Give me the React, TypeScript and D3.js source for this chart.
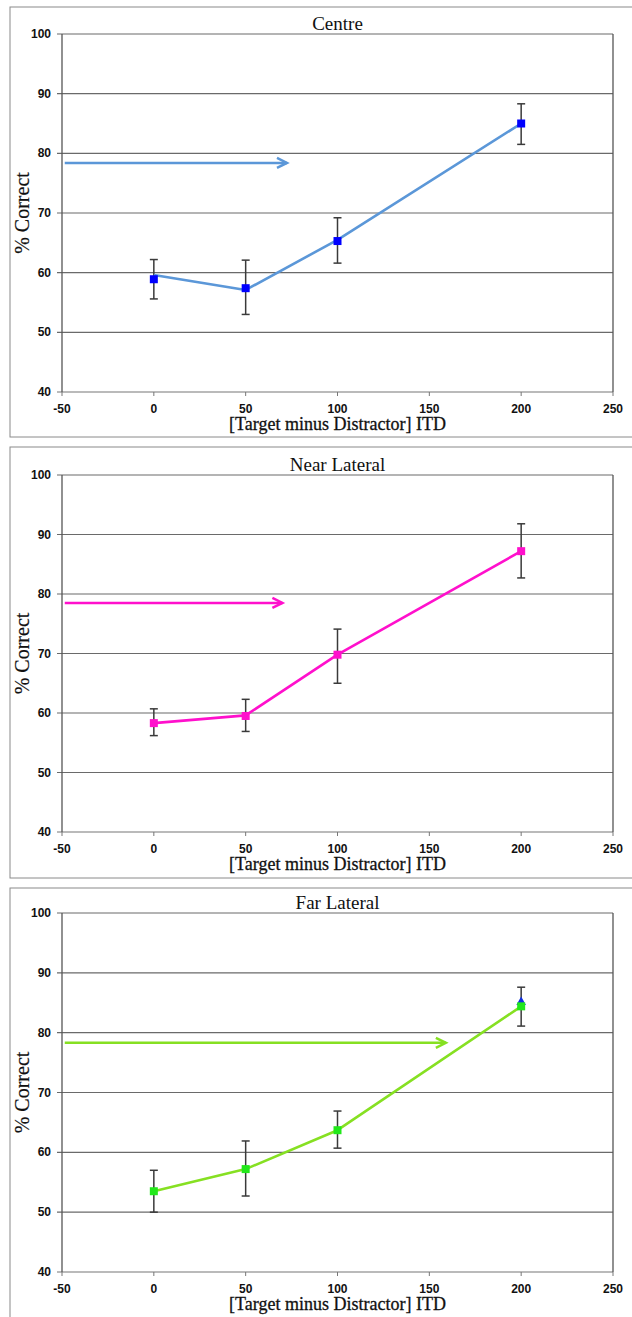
import React from "react";
import * as d3 from "d3";

const xTicks = [-50, 0, 50, 100, 150, 200, 250];
const yTicks = [40, 50, 60, 70, 80, 90, 100];
const itd = [0, 50, 100, 200];
const titles = ["Centre", "Near Lateral", "Far Lateral"];
const xAxisTitle = "[Target minus Distractor] ITD";
const yAxisTitle = "% Correct";

const centreMean = [58.9, 57.4, 65.3, 85.0];
const centreLine = [59.6, 57.1, 65.5, 85.0];
const centreLow = [55.6, 53.0, 61.6, 81.5];
const centreHigh = [62.2, 62.1, 69.2, 88.3];

const nearMean = [58.3, 59.5, 69.8, 87.2];
const nearLine = [58.3, 59.6, 69.8, 87.2];
const nearLow = [56.2, 56.9, 65.0, 82.7];
const nearHigh = [60.7, 62.3, 74.1, 91.8];

const farMean = [53.5, 57.2, 63.7, 84.4];
const farLine = [53.5, 57.2, 63.7, 84.4];
const farLow = [50.0, 52.7, 60.7, 81.1];
const farHigh = [57.0, 61.9, 66.9, 87.6];
const farHiddenMarker = [85.1];

const arrowLevel = [78.4, 78.5, 78.3];
const arrowStart = [-48.5, -48.5, -48.5];
const arrowEnd = [72.5, 70, 159];

const panels = [
  { top: 7, bottom: 437, plotTop: 34, plotBottom: 392, line: "#5b97d8", marker: "#0000ff", mean: centreMean, lineVals: centreLine, low: centreLow, high: centreHigh },
  { top: 447, bottom: 878, plotTop: 475, plotBottom: 832, line: "#ff10cc", marker: "#ff10cc", mean: nearMean, lineVals: nearLine, low: nearLow, high: nearHigh },
  { top: 888, bottom: 1340, plotTop: 913, plotBottom: 1272, line: "#86e022", marker: "#22e81a", mean: farMean, lineVals: farLine, low: farLow, high: farHigh },
];

const PLOT_LEFT = 62;
const PLOT_RIGHT = 613;

function Panel({ p, i }: { p: any; i: number }) {
  const x = d3.scaleLinear().domain([-50, 250]).range([PLOT_LEFT, PLOT_RIGHT]);
  const y = d3.scaleLinear().domain([40, 100]).range([p.plotBottom, p.plotTop]);
  const pts = itd.map((d, k) => [x(d), y(p.lineVals[k])] as [number, number]);
  const lineGen = d3.line();
  const ay = y(arrowLevel[i]);
  const ax0 = x(arrowStart[i]);
  const ax1 = x(arrowEnd[i]);
  const midY = (p.plotTop + p.plotBottom) / 2;
  const midX = (PLOT_LEFT + PLOT_RIGHT) / 2;
  return (
    <g>
      <rect x={10} y={p.top} width={640} height={p.bottom - p.top} fill="white" stroke="#8a8a8a" strokeWidth={1} />
      {yTicks.map((t) => (
        <g key={"y" + t}>
          <line x1={PLOT_LEFT - 5} x2={PLOT_RIGHT} y1={y(t)} y2={y(t)} stroke={t === 40 ? "#777" : "#6a6a6a"} strokeWidth={1.2} />
          <text x={PLOT_LEFT - 11} y={y(t) + 4} textAnchor="end" fontFamily="Liberation Sans, Arial, sans-serif" fontWeight="bold" fontSize={12} fill="#111">{t}</text>
        </g>
      ))}
      <line x1={PLOT_LEFT} x2={PLOT_LEFT} y1={p.plotTop} y2={p.plotBottom} stroke="#555" strokeWidth={1.3} />
      <line x1={PLOT_RIGHT} x2={PLOT_RIGHT} y1={p.plotTop} y2={p.plotBottom} stroke="#555" strokeWidth={1.3} />
      {xTicks.map((t) => (
        <g key={"x" + t}>
          <line x1={x(t)} x2={x(t)} y1={p.plotBottom} y2={p.plotBottom + 4} stroke="#777" strokeWidth={1} />
          <text x={x(t)} y={p.plotBottom + 21} textAnchor="middle" fontFamily="Liberation Sans, Arial, sans-serif" fontWeight="bold" fontSize={12} fill="#111">{t}</text>
        </g>
      ))}
      <text x={midX} y={p.plotTop - 4} textAnchor="middle" fontFamily="Liberation Serif, Times New Roman, serif" fontSize={19} fill="#111">{titles[i]}</text>
      <text x={midX} y={p.plotBottom + 38} textAnchor="middle" fontFamily="Liberation Serif, Times New Roman, serif" fontSize={18} fill="#111" stroke="#111" strokeWidth={0.3}>{xAxisTitle}</text>
      <text transform={`translate(29,${midY}) rotate(-90)`} textAnchor="middle" fontFamily="Liberation Serif, Times New Roman, serif" fontSize={20} fill="#111" stroke="#111" strokeWidth={0.2}>{yAxisTitle}</text>
      <line x1={ax0} x2={ax1} y1={ay} y2={ay} stroke={p.line} strokeWidth={2.5} />
      <path d={`M${ax1 - 10},${ay - 5} L${ax1},${ay} L${ax1 - 10},${ay + 5}`} fill="none" stroke={p.line} strokeWidth={2.5} strokeLinejoin="miter" />
      {itd.map((d, k) => (
        <g key={"e" + k} stroke="#3a3a3a" strokeWidth={1.5}>
          <line x1={x(d)} x2={x(d)} y1={y(p.low[k])} y2={y(p.high[k])} />
          <line x1={x(d) - 4} x2={x(d) + 4} y1={y(p.low[k])} y2={y(p.low[k])} />
          <line x1={x(d) - 4} x2={x(d) + 4} y1={y(p.high[k])} y2={y(p.high[k])} />
        </g>
      ))}
      {i === 2 && farHiddenMarker.map((v, k) => (
        <path key={"h" + k} d={d3.symbol().type(d3.symbolTriangle).size(40)() as string} transform={`translate(${x(200)},${y(v)})`} fill="#1030e0" />
      ))}
      <path d={lineGen(pts) as string} fill="none" stroke={p.line} strokeWidth={2.6} strokeLinejoin="round" />
      {itd.map((d, k) => (
        <rect key={"m" + k} x={x(d) - 4} y={y(p.mean[k]) - 4} width={8} height={8} fill={p.marker} />
      ))}
    </g>
  );
}

export default function App() {
  return (
    <svg width={632} height={1317} style={{ position: "absolute", left: 0, top: 0, background: "white" }}>
      <rect x={0} y={0} width={632} height={1317} fill="white" />
      {panels.map((p, i) => (
        <Panel key={i} p={p} i={i} />
      ))}
    </svg>
  );
}
